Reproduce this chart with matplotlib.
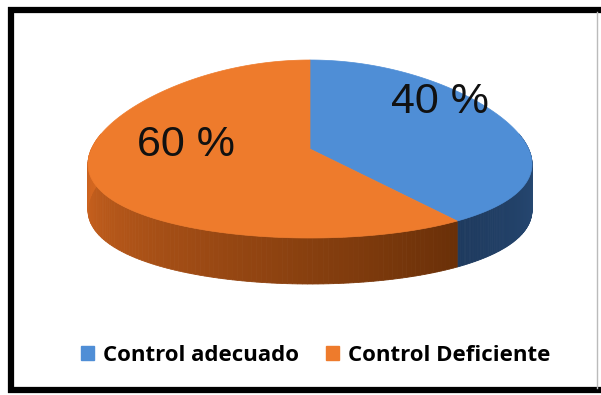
import numpy as np
import matplotlib
matplotlib.use("Agg")
import matplotlib.pyplot as plt
from matplotlib.patches import Polygon, Rectangle
from matplotlib.colors import to_rgb

labels = ["Control adecuado", "Control Deficiente"]
values = [40, 60]
top_colors = ["#4F8ED6", "#EE7B2C"]
side_light = ["#2A4F7C", "#DA6A22"]
side_dark = ["#1E3A5E", "#6A3008"]

# pie geometry in pixel space (k = perspective widening toward the viewer)
cx, cy, a, b, depth, k = 310, 149, 218.6, 89, 46, 0.18
label_pos = [(440, 102), (186, 145)]

fig = plt.figure(figsize=(6.01, 3.95), dpi=100)
ax = fig.add_axes([0, 0, 1, 1])
ax.set_xlim(0, 601)
ax.set_ylim(395, 0)
ax.axis("off")


def pt(t, dy=0):
    r = np.radians(t)
    u, v = np.sin(r), -np.cos(r)
    return cx + a * u * (1 + k * v), cy + b * v + dy


total = sum(values)
bounds = np.concatenate([[0], np.cumsum(values) / total * 360])

# the widest point of the ellipse sits slightly in front of the centre
v_max = (-1 + np.sqrt(1 + 8 * k * k)) / (4 * k)
t_side = np.degrees(np.arccos(-v_max))

# side wall (visible front part only)
for i in range(len(values)):
    t0, t1 = max(bounds[i], 180 - t_side), min(bounds[i + 1], 180 + t_side)
    if t1 <= t0:
        continue
    ts = np.linspace(t0, t1, 120)
    c0, c1 = np.array(to_rgb(side_light[i])), np.array(to_rgb(side_dark[i]))
    for j in range(len(ts) - 1):
        f = (ts[j] - t0) / (t1 - t0)
        if i == 1:
            f = 1 - f
        col = c0 * (1 - f) + c1 * f
        p1, p2 = pt(ts[j]), pt(ts[j + 1])
        q = [p1, p2, pt(ts[j + 1], depth), pt(ts[j], depth)]
        ax.add_patch(Polygon(q, closed=True, facecolor=col, edgecolor=col, lw=0.6))

# top faces
for i in range(len(values)):
    ts = np.linspace(bounds[i], bounds[i + 1], 200)
    verts = [(cx, cy)] + [pt(t) for t in ts]
    ax.add_patch(Polygon(verts, closed=True, facecolor=top_colors[i],
                         edgecolor=top_colors[i], lw=0.5))

for (x, y), v in zip(label_pos, values):
    ax.text(x, y, f"{v} %", fontsize=31, family="Liberation Sans",
            ha="center", va="center", color="#111111")

# legend
handles = [Rectangle((0, 0), 1, 1, color=c) for c in top_colors]
leg = ax.legend(handles, labels, ncol=2, loc="center", bbox_to_anchor=(0.525, 0.1),
                frameon=False, handlelength=0.6, handleheight=0.6, handletextpad=0.4,
                columnspacing=1.2, prop={"family": "Open Sans", "weight": "bold", "size": 16})

# frame
ax.plot([8, 601], [10, 10], color="black", lw=4.5, solid_capstyle="butt")
ax.plot([11, 11], [7, 393], color="black", lw=4.5, solid_capstyle="butt")
ax.plot([8, 601], [390, 390], color="black", lw=4.5, solid_capstyle="butt")
ax.plot([597, 597], [12, 388], color="#BBBBBB", lw=1)

fig.savefig("out.png", dpi=100)
